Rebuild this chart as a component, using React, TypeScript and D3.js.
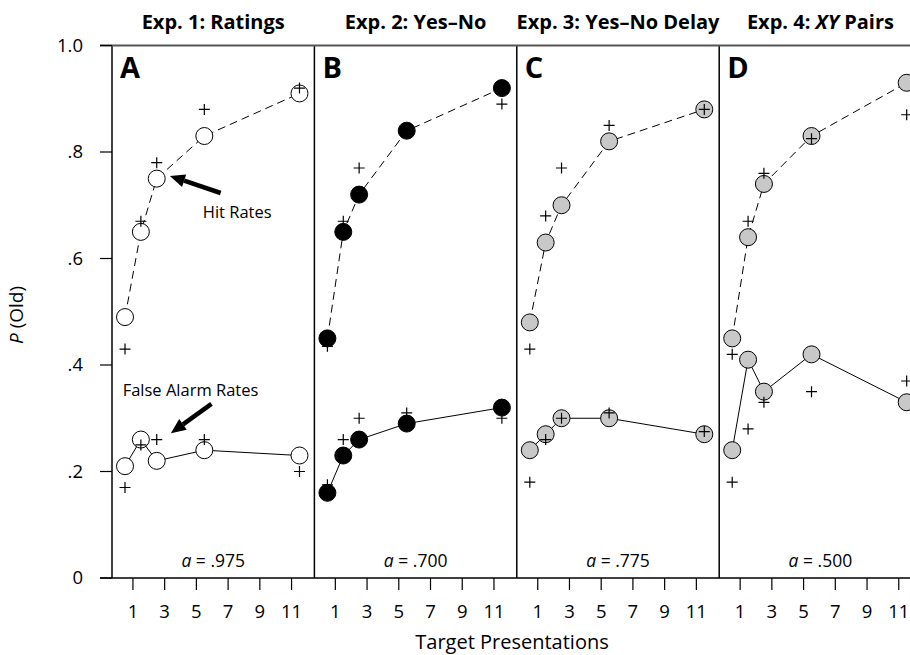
import * as d3 from "d3";

// x positions of the five points (target presentations) and axis ticks
const presentations = [0.5, 1.5, 2.5, 5.5, 11.5];
const xTicks = [1, 3, 5, 7, 9, 11];
const yTicks = [0, 0.2, 0.4, 0.6, 0.8, 1.0];
const yTickLabels = ["0", ".2", ".4", ".6", ".8", "1.0"];

const panelLetters = ["A", "B", "C", "D"];
const panelTitles = ["Exp. 1: Ratings", "Exp. 2: Yes\u2013No", "Exp. 3: Yes\u2013No Delay", "Exp. 4: |XY| Pairs"];
const aValues = [".975", ".700", ".775", ".500"];
const markerFills = ["#ffffff", "#000000", "#c8c8c8", "#c8c8c8"];

// observed (circles) and predicted (crosses), one row per experiment
const hitObserved = [
  [0.49, 0.65, 0.75, 0.83, 0.91],
  [0.45, 0.65, 0.72, 0.84, 0.92],
  [0.48, 0.63, 0.70, 0.82, 0.88],
  [0.45, 0.64, 0.74, 0.83, 0.93],
];
const hitPredicted = [
  [0.43, 0.67, 0.78, 0.88, 0.92],
  [0.435, 0.67, 0.77, 0.84, 0.89],
  [0.43, 0.68, 0.77, 0.85, 0.88],
  [0.42, 0.67, 0.76, 0.825, 0.87],
];
const faObserved = [
  [0.21, 0.26, 0.22, 0.24, 0.23],
  [0.16, 0.23, 0.26, 0.29, 0.32],
  [0.24, 0.27, 0.30, 0.30, 0.27],
  [0.24, 0.41, 0.35, 0.42, 0.33],
];
const faPredicted = [
  [0.17, 0.25, 0.26, 0.26, 0.20],
  [0.175, 0.26, 0.30, 0.31, 0.30],
  [0.18, 0.26, 0.30, 0.31, 0.275],
  [0.18, 0.28, 0.33, 0.35, 0.37],
];

const W = 910;
const H = 655;
const plotLeft = 112;
const panelW = 202.4;
const plotTop = 45.5;
const plotBottom = 578;
const font = "'Open Sans', 'Noto Sans', sans-serif";

const y = d3.scaleLinear().domain([0, 1]).range([plotBottom, plotTop]);
const xFor = (i: number) =>
  d3.scaleLinear().domain([-0.32, 12.44]).range([plotLeft + i * panelW, plotLeft + (i + 1) * panelW]);

function Arrow({ x1, y1, x2, y2 }: { x1: number; y1: number; x2: number; y2: number }) {
  const ang = Math.atan2(y2 - y1, x2 - x1);
  const headL = 15;
  const headW = 6.5;
  const bx = x2 - headL * Math.cos(ang);
  const by = y2 - headL * Math.sin(ang);
  const px = -Math.sin(ang);
  const py = Math.cos(ang);
  return (
    <g>
      <line x1={x1} y1={y1} x2={bx} y2={by} stroke="#000" strokeWidth={4.5} />
      <path
        d={`M${x2},${y2}L${bx + px * headW},${by + py * headW}L${bx - px * headW},${by - py * headW}Z`}
        fill="#000"
      />
    </g>
  );
}

function Plus({ cx, cy }: { cx: number; cy: number }) {
  const s = 5.5;
  return (
    <path d={`M${cx - s},${cy}H${cx + s}M${cx},${cy - s}V${cy + s}`} stroke="#000" strokeWidth={1.2} fill="none" />
  );
}

function Panel({ i }: { i: number }) {
  const x = xFor(i);
  const left = plotLeft + i * panelW;
  const line = d3
    .line<number>()
    .x((_, k) => x(presentations[k]))
    .y((v) => y(v));
  const titleParts = panelTitles[i].split("|");
  return (
    <g>
      <text
        x={left + panelW / 2}
        y={28.5}
        textAnchor="middle"
        fontFamily={font}
        fontWeight="bold"
        fontSize={20}
      >
        {titleParts.map((t, k) => (
          <tspan key={k} fontStyle={k === 1 ? "italic" : "normal"}>
            {t}
          </tspan>
        ))}
      </text>
      <line x1={left} x2={left} y1={plotTop} y2={plotBottom} stroke="#000" strokeWidth={1.5} />
      <text x={left + 8} y={78} fontFamily={font} fontWeight="bold" fontSize={29}>
        {panelLetters[i]}
      </text>
      {xTicks.map((t) => (
        <g key={t}>
          <line x1={x(t)} x2={x(t)} y1={plotBottom} y2={plotBottom + 12} stroke="#000" strokeWidth={1.2} />
          <text x={x(t)} y={612} dy="0.35em" textAnchor="middle" fontFamily={font} fontSize={18.5}>
            {t}
          </text>
        </g>
      ))}
      <path d={line(hitObserved[i]) || ""} fill="none" stroke="#000" strokeWidth={1} strokeDasharray="8,5" />
      <path d={line(faObserved[i]) || ""} fill="none" stroke="#000" strokeWidth={1} />
      {[hitObserved[i], faObserved[i]].map((series, s) =>
        series.map((v, k) => (
          <circle
            key={`${s}-${k}`}
            cx={x(presentations[k])}
            cy={y(v)}
            r={8.5}
            fill={markerFills[i]}
            stroke="#000"
            strokeWidth={1}
          />
        ))
      )}
      {[hitPredicted[i], faPredicted[i]].map((series, s) =>
        series.map((v, k) => <Plus key={`p${s}-${k}`} cx={x(presentations[k])} cy={y(v)} />)
      )}
      <text x={left + panelW / 2} y={567} textAnchor="middle" fontFamily={font} fontSize={17.5}>
        <tspan fontStyle="italic">a</tspan>
        {" = " + aValues[i]}
      </text>
    </g>
  );
}

export default function App() {
  const xA = xFor(0);
  return (
    <svg width={W} height={H} style={{ position: "absolute", left: 0, top: 0, background: "#fff" }}>
      <rect width={W} height={H} fill="#fff" />
      {panelLetters.map((_, i) => (
        <Panel key={i} i={i} />
      ))}
      <line x1={100} x2={W} y1={plotTop} y2={plotTop} stroke="#555" strokeWidth={1.8} />
      <line x1={100} x2={W} y1={plotBottom} y2={plotBottom} stroke="#000" strokeWidth={1.5} />
      {yTicks.map((t, k) => (
        <g key={t}>
          <line x1={100} x2={plotLeft} y1={y(t)} y2={y(t)} stroke="#000" strokeWidth={1.2} />
          <text x={83} y={y(t)} dy="0.35em" textAnchor="end" fontFamily={font} fontSize={18.5}>
            {yTickLabels[k]}
          </text>
        </g>
      ))}
      <text transform="translate(23,315) rotate(-90)" textAnchor="middle" fontFamily={font} fontSize={19}>
        <tspan fontStyle="italic">P</tspan> (Old)
      </text>
      <text x={512} y={649} textAnchor="middle" fontFamily={font} fontSize={20}>
        Target Presentations
      </text>
      {/* annotations in panel A */}
      <Arrow x1={xA(6.53)} y1={y(0.723)} x2={xA(3.33)} y2={y(0.755)} />
      <text x={xA(5.4)} y={y(0.686)} dy="0.35em" fontFamily={font} fontSize={16.5}>
        Hit Rates
      </text>
      <Arrow x1={xA(5.95)} y1={y(0.327)} x2={xA(3.39)} y2={y(0.272)} />
      <text x={xA(0.35)} y={y(0.353)} dy="0.35em" fontFamily={font} fontSize={16.5}>
        False Alarm Rates
      </text>
    </svg>
  );
}
